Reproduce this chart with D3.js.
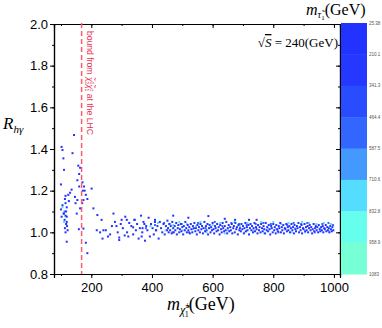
<!DOCTYPE html>
<html lang="en">
<head>
<meta charset="utf-8">
<title>R_hgamma vs chargino mass</title>
<script src="https://cdn.jsdelivr.net/npm/d3@7"></script>
<style>
  body { margin: 0; background: #fff; }
  .tick text { font-family: "Liberation Sans", Arial, sans-serif; font-size: 13px; fill: #000; }
  .serif { font-family: "Liberation Serif", "Times New Roman", serif; fill: #000; }
</style>
</head>
<body>
<svg width="382" height="328"></svg>
<script>
// tick values
var xTicks = [200, 400, 600, 800, 1000];
var yTicks = [0.8, 1.0, 1.2, 1.4, 1.6, 1.8, 2.0];

// colour bar (m_stau in GeV)
var cbLabels = ["25.38", "210.1", "341.3", "464.4", "587.5", "710.6", "832.8", "958.9", "1083"];
var cbBounds = [210.1, 341.3, 464.4, 587.5, 710.6, 832.8, 958.9];
var cbColors = ["#2233ff", "#2538ff", "#2a4cff", "#3366ff", "#4499ff", "#55ddff", "#66ffee", "#77ffd6"];

// LHC bound on chargino mass
var boundMass = 168;

// stau mass for each group of points
var stauDark = 120, stauMid = 520, stauLight = 780;

// [m_chargino, R_hgamma]
var pointsDark = [
  [102,1.41],[105,1.395],[108,1.355],[143,1.467],[138,1.38],[110,1.30],[100,1.23],[157,1.32],[163,1.31],[160,1.28],
  [154,1.25],[160,1.22],[176,1.22],[178,1.20],[182,1.18],[187,1.16],[201,1.21],[174,1.155],[170,1.14],[163,1.115],
  [154,1.155],[146,1.17],[148,1.14],[152,1.09],[135,1.205],[130,1.19],[124,1.18],[126,1.15],[119,1.12],[115,1.175],
  [113,1.16],[115,1.14],[117,1.10],[110,1.09],[115,1.08],[119,1.075],[112,1.06],[119,1.05],[117,1.04],[122,1.01],
  [119,0.955],[102,1.075],[100,1.11],[105,1.13],[115,1.0],[159,1.015],[174,1.018],[182,0.95],[187,0.90],[218,1.01],
  [220,1.083],[234,1.06],[248,1.01],[237,0.97],[262,0.99],[273,1.09],[278,1.05],[283,1.03],[292,0.975],[297,1.04],
  [312,1.075],[304,1.02],[318,1.0],[171,1.24],[172,1.20],[207,1.115],[240,1.01],[292,0.963],[300,1.06],[325,1.045],
  [310,0.985],[287,1.0],[268,1.03],[255,0.98],[229,1.0],[113,1.02],[120,1.03],[317,1.06],[322,0.98],[338,1.024],
  [343,1.06],[366,0.98],[369,1.02],[375,1.04],[410,1.05],[413,1.01],[451,1.056],
  [332,1.03],[338,0.99],[342,1.06],[347,1.01],[351,1.04],[356,0.97],[360,1.02],[364,1.08],[368,1.00],[372,1.05],
  [377,0.96],[381,1.03],[385,1.01],[389,1.07],[393,0.98],[397,1.04],[402,1.02],[406,0.99],[410,1.06],[414,1.01],
  [418,1.03],[422,0.97],[426,1.05],[430,1.02],[434,1.00],[438,1.04],[442,0.99],[446,1.03],[450,1.01],
  [453,1.02],[455,1.00],[457,1.04],[460,1.01],[462,1.03],[465,0.995],[467,1.05],[470,1.02],[472,1.00],[475,1.03],
  [477,1.01],[480,1.045],[482,0.99],[485,1.02],[487,1.035],[490,1.00],[492,1.015],[495,1.04],[497,1.005],[500,1.025],
  [503,0.99],[505,1.03],[508,1.01],[510,1.05],[513,1.02],[515,1.00],[518,1.035],[520,1.01],[523,1.025],[525,0.995],
  [528,1.04],[530,1.015],[533,1.00],[535,1.03],[538,1.02],[540,1.045],[543,1.005],[545,1.02],[548,0.99],[550,1.035],
  [553,1.01],[555,1.025],[558,1.00],[560,1.04],[563,1.015],[565,1.03],[568,0.995],[570,1.02],[573,1.05],[575,1.005],
  [578,1.03],[580,1.01],[583,1.04],[585,0.99],[588,1.02],[590,1.035],[593,1.00],[595,1.025],[598,1.01],[600,1.045],
  [603,1.015],[605,0.995],[608,1.03],[610,1.02],[613,1.005],[615,1.04],[618,1.01],[620,1.025],[623,0.99],[625,1.035],
  [628,1.015],[630,1.00],[633,1.045],[635,1.02],[638,1.005],[640,1.03],[643,1.01],[645,1.05],[648,0.995],[650,1.02],
  [653,1.035],[655,1.005],[658,1.025],[660,1.01],[663,1.04],[665,0.995],[668,1.02],[670,1.03],[673,1.00],[675,1.045],
  [678,1.015],[680,1.025],[683,0.99],[685,1.035],[688,1.01],[690,1.02],[693,1.005],[695,1.04],[698,1.015],[700,1.03],
  [703,0.995],[705,1.02],[708,1.045],[710,1.005],[713,1.025],[715,1.01],[718,1.035],[720,0.99],[723,1.02],[725,1.04],
  [728,1.01],[730,1.03],[733,1.00],[735,1.02],[738,1.045],[740,1.005],[743,1.025],[745,1.015],[748,0.995],[750,1.035],
  [753,1.01],[755,1.025],[758,1.00],[760,1.04],[763,1.02],[765,1.005],[768,1.03],[770,1.015],[773,0.995],[775,1.045],
  [778,1.01],[780,1.025],[783,1.005],[785,1.035],[788,1.015],[790,0.99],[793,1.03],[795,1.02],[798,1.00],[800,1.04],
  [803,1.01],[805,1.025],[808,0.995],[810,1.035],[813,1.015],[815,1.005],[818,1.03],[820,1.02],[823,1.045],[825,1.00],
  [828,1.025],[830,1.01],[833,1.035],[835,0.995],[838,1.02],[840,1.015],[843,1.04],[845,1.005],[848,1.025],[850,1.01],
  [853,1.03],[855,1.00],[858,1.02],[860,1.04],[863,1.01],[865,1.025],[868,0.995],[870,1.035],[873,1.015],[875,1.005],
  [878,1.03],[880,1.02],[883,1.045],[885,1.00],[888,1.025],[890,1.01],[893,1.035],[895,0.995],[898,1.02],[900,1.015],
  [903,1.04],[905,1.005],[908,1.025],[910,1.01],[913,1.03],[915,1.00],[918,1.02],[920,1.035],[923,1.01],[925,1.025],
  [928,0.995],[930,1.015],[933,1.04],[935,1.005],[938,1.02],[940,1.03],[943,1.01],[945,1.025],[948,1.00],[950,1.035],
  [953,1.015],[955,1.005],[958,1.025],[960,1.01],[963,1.03],[965,1.00],[968,1.02],[970,1.015],[973,1.035],[975,1.005],
  [978,1.025],[980,1.01],[983,1.02],[985,1.00],[988,1.03],[990,1.015],[993,1.005],[995,1.025],[998,1.01],
  [586,1.078],[674,1.06],[745,1.06],[640,1.065],[720,1.06],[470,1.08],[520,1.07]
];
var pointsMid = [
  [380,1.02],[410,1.035],[440,1.045],[468,1.0],[498,1.04],[522,1.0],[552,1.045],[577,1.02],[607,1.05],[632,1.03],
  [662,1.045],[687,1.04],[712,1.035],[742,1.04],[767,1.045],[792,1.04],[817,1.0],[846,1.035],[867,1.045],[892,1.04],
  [912,1.045],[937,1.0],[962,1.04],[982,1.045],[997,1.035],[108,1.09],[112,1.10]
];
var pointsLight = [
  [395,1.03],[420,1.045],[445,1.01],[470,1.035],[490,1.05],[515,1.04],[535,1.015],[560,1.05],[580,1.0],[600,1.035],
  [625,1.045],[650,1.01],[672,1.05],[690,1.03],[715,1.045],[735,1.01],[760,1.05],[782,1.02],[800,1.05],[826,1.04],
  [850,1.045],[872,1.02],[895,1.05],[918,1.045],[942,1.04],[966,1.045],[990,1.04],[985,1.005],[955,1.02],[905,1.0],
  [860,1.0],[810,1.015],[770,0.995],[705,1.0],[640,0.995],[590,1.02],[545,1.03],[500,1.01],[460,1.04],[105,1.12],[110,1.05]
];

// dimensions
var margin = {top: 24, right: 42, bottom: 54, left: 54},
    width = 382 - margin.left - margin.right,
    height = 328 - margin.top - margin.bottom;

var x = d3.scaleLinear().domain([77, 1020]).range([0, width]);
var y = d3.scaleLinear().domain([0.8, 2.0]).range([height, 0]);
var color = d3.scaleThreshold().domain(cbBounds).range(cbColors);

var svg = d3.select("svg")
  .append("g")
    .attr("transform", "translate(" + margin.left + "," + margin.top + ")");

// points (light first so the dark ones sit on top, like the original)
var groups = [[pointsLight, stauLight], [pointsMid, stauMid], [pointsDark, stauDark]];
groups.forEach(function(g) {
  svg.append("g").selectAll("rect")
      .data(g[0])
    .enter().append("rect")
      .attr("x", function(d) { return x(d[0]) - 1; })
      .attr("y", function(d) { return y(d[1]) - 1; })
      .attr("width", 2)
      .attr("height", 2)
      .attr("fill", color(g[1]));
});

// minor tick values
var xMinor = d3.range(100, 1001, 100);
var yMinor = d3.range(0.8, 2.001, 0.1);

function styleAxis(g) {
  g.select(".domain").attr("stroke", "#000").attr("stroke-width", 1.2);
  g.selectAll(".tick line").attr("stroke", "#000");
}

// bottom axis
svg.append("g")
    .attr("transform", "translate(0," + height + ")")
    .call(d3.axisBottom(x).tickValues(xMinor).tickSize(2).tickFormat(""))
    .call(styleAxis);
svg.append("g")
    .attr("transform", "translate(0," + height + ")")
    .call(d3.axisBottom(x).tickValues(xTicks).tickSize(4).tickPadding(5).tickFormat(d3.format("d")))
    .call(styleAxis);

// left axis
svg.append("g")
    .call(d3.axisLeft(y).tickValues(yMinor).tickSize(2).tickFormat(""))
    .call(styleAxis);
svg.append("g")
    .call(d3.axisLeft(y).tickValues(yTicks).tickSize(4).tickPadding(2).tickFormat(d3.format(".1f")))
    .call(styleAxis);

// top axis (ticks inward)
svg.append("g")
    .call(d3.axisTop(x).tickValues(xMinor).tickSize(-2).tickFormat(""))
    .call(styleAxis);
svg.append("g")
    .call(d3.axisTop(x).tickValues(xTicks).tickSize(-4).tickFormat(""))
    .call(styleAxis);

// right axis (ticks inward)
svg.append("g")
    .attr("transform", "translate(" + width + ",0)")
    .call(d3.axisRight(y).tickValues(yMinor).tickSize(-2).tickFormat(""))
    .call(styleAxis);
svg.append("g")
    .attr("transform", "translate(" + width + ",0)")
    .call(d3.axisRight(y).tickValues(yTicks).tickSize(-4).tickFormat(""))
    .call(styleAxis);

// LHC bound line
svg.append("line")
    .attr("x1", x(boundMass)).attr("x2", x(boundMass))
    .attr("y1", -1).attr("y2", height)
    .attr("stroke", "#ff5a6a")
    .attr("stroke-width", 1.5)
    .attr("stroke-dasharray", "5,3");

var bt = svg.append("text")
    .attr("transform", "translate(" + (x(boundMass) + 5) + ",7) rotate(90)")
    .attr("font-family", "Liberation Sans, Arial, sans-serif")
    .attr("font-size", 8.6)
    .attr("fill", "#e8334f");
bt.append("tspan").text("bound from ");
bt.append("tspan").attr("font-style", "italic").text("χ̃");
bt.append("tspan").attr("font-size", 5).attr("dy", -3).text("0");
bt.append("tspan").attr("font-size", 5).attr("dy", 5).attr("dx", -3).text("2");
bt.append("tspan").attr("dy", -2).attr("font-style", "italic").text("χ̃");
bt.append("tspan").attr("font-size", 5).attr("dy", -3).text("±");
bt.append("tspan").attr("font-size", 5).attr("dy", 5).attr("dx", -3).text("1");
bt.append("tspan").attr("dy", -2).text(" at the LHC");

// colour bar
var cb = d3.scaleLinear().domain([0, cbLabels.length - 1]).range([-1, height]);
var cbX = width + 1, cbW = 26;
svg.append("g").selectAll("rect")
    .data(cbColors)
  .enter().append("rect")
    .attr("x", cbX)
    .attr("y", function(d, i) { return cb(i); })
    .attr("width", cbW)
    .attr("height", function(d, i) { return cb(i + 1) - cb(i) + 0.5; })
    .attr("fill", function(d) { return d; });
svg.append("g").selectAll("text")
    .data(cbLabels)
  .enter().append("text")
    .attr("x", cbX + cbW + 2)
    .attr("y", function(d, i) { return cb(i) + 1.5; })
    .attr("font-family", "Liberation Sans, Arial, sans-serif")
    .attr("font-size", 4.5)
    .attr("fill", "#555")
    .text(function(d) { return d; });

// colour bar title m_stau1 (GeV)
var ct = svg.append("text").attr("class", "serif")
    .attr("x", 252).attr("y", -9).attr("font-size", 16);
ct.append("tspan").attr("font-style", "italic").text("m");
ct.append("tspan").attr("font-size", 10).attr("font-style", "italic").attr("dy", 3).text("τ̃");
ct.append("tspan").attr("font-size", 7).attr("dy", 2).text("1");
ct.append("tspan").attr("dy", -5).text("(GeV)");

// sqrt(S) = 240 (GeV)
var st = svg.append("text").attr("class", "serif")
    .attr("x", width - 2).attr("y", 23).attr("text-anchor", "end").attr("font-size", 13);
st.append("tspan").text("√");
st.append("tspan").attr("font-style", "italic").attr("text-decoration", "overline").text("S");
st.append("tspan").text(" = 240(GeV)");

// x label
var xl = svg.append("text").attr("class", "serif")
    .attr("x", 113).attr("y", height + 36).attr("font-size", 18);
xl.append("tspan").attr("font-style", "italic").text("m");
xl.append("tspan").attr("font-size", 12).attr("font-style", "italic").attr("dy", 4).text("χ̃");
xl.append("tspan").attr("font-size", 8).attr("dy", -6).text("±");
xl.append("tspan").attr("font-size", 8).attr("dy", 9).attr("dx", -5).text("1");
xl.append("tspan").attr("dy", -7).text("(GeV)");

// y label
var yl = svg.append("text").attr("class", "serif")
    .attr("x", -51).attr("y", 105).attr("font-size", 17);
yl.append("tspan").attr("font-style", "italic").text("R");
yl.append("tspan").attr("font-size", 11).attr("font-style", "italic").attr("dy", 4).text("hγ");
</script>
</body>
</html>
